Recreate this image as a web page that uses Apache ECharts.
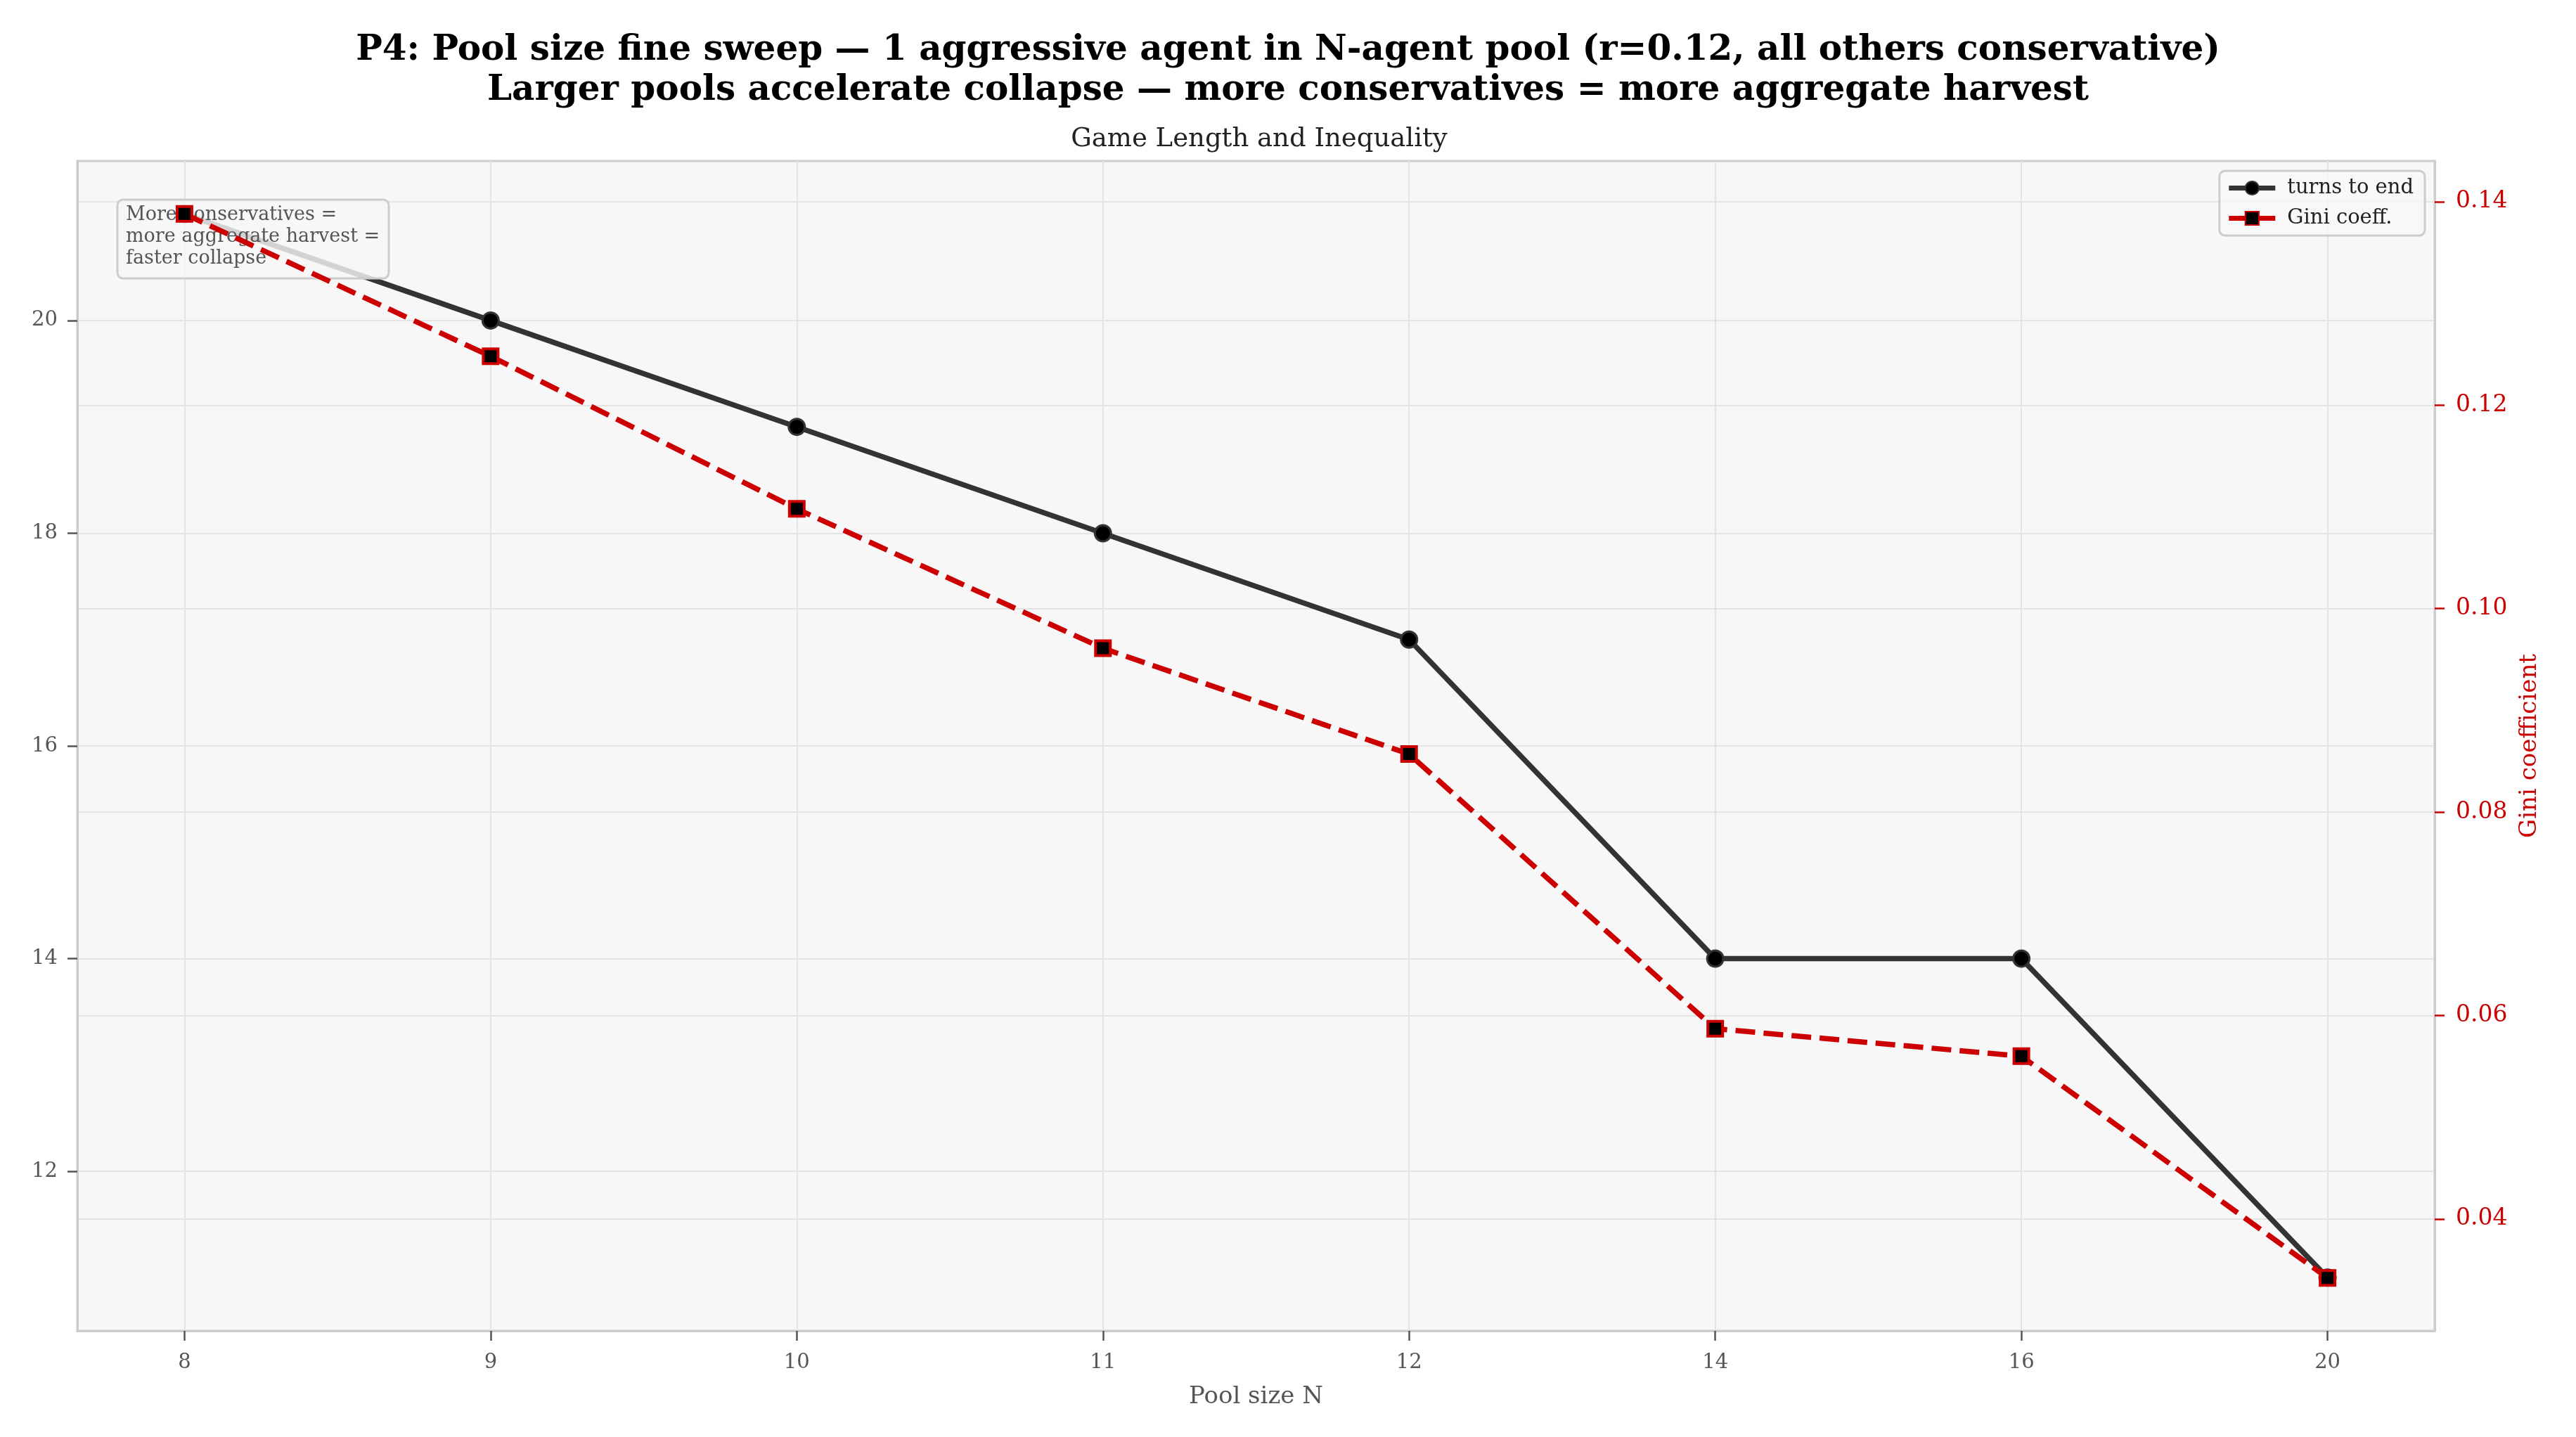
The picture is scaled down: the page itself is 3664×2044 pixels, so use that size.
<!DOCTYPE html>
<html>
<head>
<meta charset="utf-8">
<script src="https://cdn.jsdelivr.net/npm/echarts@6/dist/echarts.min.js"></script>
<style>
  html, body { margin: 0; padding: 0; background: #fff; }
  #chart { width: 3664px; height: 2044px; }
</style>
</head>
<body>
<div id="chart"></div>
<script>
// pool sizes N (evenly spaced on the x axis)
var poolSizes = ['8', '9', '10', '11', '12', '14', '16', '20'];
// turns until the game ended
var turnsToEnd = [21, 20, 19, 18, 17, 14, 14, 11];
// gini coefficient of final holdings
var giniCoeff = [0.1388, 0.1248, 0.1098, 0.0961, 0.0857, 0.0587, 0.0560, 0.0342];
// tick values
var leftTicks = [12, 14, 16, 18, 20];
var rightTicks = [0.04, 0.06, 0.08, 0.10, 0.12, 0.14];

var font = 'DejaVu Serif';
var red = '#cc0000';
var idx = poolSizes.map(function (s, i) { return i; });

var myChart = echarts.init(document.getElementById('chart'), null, {renderer: 'canvas'});
var option = {
    animation: false,
    backgroundColor: '#ffffff',
    title: [{
        text: 'P4: Pool size fine sweep \u2014 1 aggressive agent in N-agent pool (r=0.12, all others conservative)\nLarger pools accelerate collapse \u2014 more conservatives = more aggregate harvest',
        left: 'center',
        top: 39,
        textStyle: {fontFamily: font, fontSize: 50, fontWeight: 'bold', color: '#000', lineHeight: 57, align: 'center'}
    }, {
        // axes title, centred over the plot area
        text: 'Game Length and Inequality',
        left: 1786,
        textAlign: 'center',
        top: 171,
        textStyle: {fontFamily: font, fontSize: 37, fontWeight: 'normal', color: '#222', lineHeight: 44}
    }],
    legend: {
        orient: 'vertical',
        right: 215,
        top: 243,
        data: ['turns to end', 'Gini coeff.'],
        itemWidth: 66,
        itemHeight: 24,
        itemGap: 14,
        padding: [10, 16, 10, 10],
        backgroundColor: 'rgba(247,247,247,0.8)',
        borderColor: '#cccccc',
        borderWidth: 3,
        borderRadius: 8,
        lineStyle: {width: 7},
        textStyle: {fontFamily: font, fontSize: 29, color: '#222', padding: [0, 0, 0, 12]}
    },
    grid: {
        left: 110, right: 201, top: 229, bottom: 151,
        show: true,
        backgroundColor: '#f7f7f7',
        borderColor: '#cccccc',
        borderWidth: 3,
        containLabel: false,
        outerBoundsMode: 'none'
    },
    xAxis: {
        type: 'value',
        min: -0.35,
        max: 7.35,
        name: 'Pool size N',
        nameLocation: 'middle',
        nameGap: 77,
        nameTextStyle: {fontFamily: font, fontSize: 34, color: '#555'},
        axisLine: {show: true, onZero: false, lineStyle: {color: '#cccccc', width: 3}},
        axisTick: {show: true, length: 14, customValues: idx, lineStyle: {color: '#555', width: 2.5}},
        axisLabel: {
            customValues: idx,
            margin: 31,
            fontFamily: font, fontSize: 29, color: '#555',
            formatter: function (v) { return poolSizes[Math.round(v)]; }
        },
        splitLine: {show: true, lineStyle: {color: '#e4e4e4', width: 2}}
    },
    yAxis: [{
        type: 'value',
        min: 10.5,
        max: 21.5,
        axisLine: {show: true, onZero: false, lineStyle: {color: '#cccccc', width: 3}},
        axisTick: {show: true, length: 14, customValues: leftTicks, lineStyle: {color: '#555', width: 2.5}},
        axisLabel: {customValues: leftTicks, margin: 28, fontFamily: font, fontSize: 29, color: '#555'},
        splitLine: {show: true, lineStyle: {color: '#e4e4e4', width: 2}}
    }, {
        type: 'value',
        position: 'right',
        min: 0.029,
        max: 0.144,
        name: 'Gini coefficient',
        nameLocation: 'middle',
        nameRotate: 90,
        nameGap: 118,
        nameTextStyle: {fontFamily: font, fontSize: 34, color: red},
        axisLine: {show: true, onZero: false, lineStyle: {color: '#cccccc', width: 3}},
        axisTick: {show: true, length: 14, customValues: rightTicks, lineStyle: {color: red, width: 2.5}},
        axisLabel: {
            customValues: rightTicks, margin: 30,
            fontFamily: font, fontSize: 33, color: red,
            formatter: function (v) { return v.toFixed(2); }
        },
        splitLine: {show: true, lineStyle: {color: '#e4e4e4', width: 2}}
    }],
    graphic: [{
        type: 'rect',
        z: 3,
        shape: {x: 167, y: 284, width: 386, height: 112, r: 8},
        style: {fill: 'rgba(247,247,247,0.82)', stroke: '#cccccc', lineWidth: 3}
    }, {
        type: 'text',
        z: 3,
        x: 179,
        y: 290,
        style: {
            text: 'More conservatives =\nmore aggregate harvest =\nfaster collapse',
            font: '27px "DejaVu Serif"',
            fill: '#555',
            lineHeight: 31
        }
    }],
    series: [{
        name: 'turns to end',
        type: 'line',
        yAxisIndex: 0,
        z: 2,
        data: idx.map(function (i) { return [i, turnsToEnd[i]]; }),
        symbol: 'circle',
        symbolSize: 23,
        itemStyle: {color: '#000', borderColor: '#333', borderWidth: 3},
        lineStyle: {color: '#333', width: 7.5}
    }, {
        name: 'Gini coeff.',
        type: 'line',
        yAxisIndex: 1,
        z: 5,
        data: idx.map(function (i) { return [i, giniCoeff[i]]; }),
        symbol: 'rect',
        symbolSize: 21,
        itemStyle: {color: '#000', borderColor: red, borderWidth: 4},
        lineStyle: {color: red, width: 7.5, type: [28, 12]}
    }]
};
myChart.setOption(option);
</script>
</body>
</html>
